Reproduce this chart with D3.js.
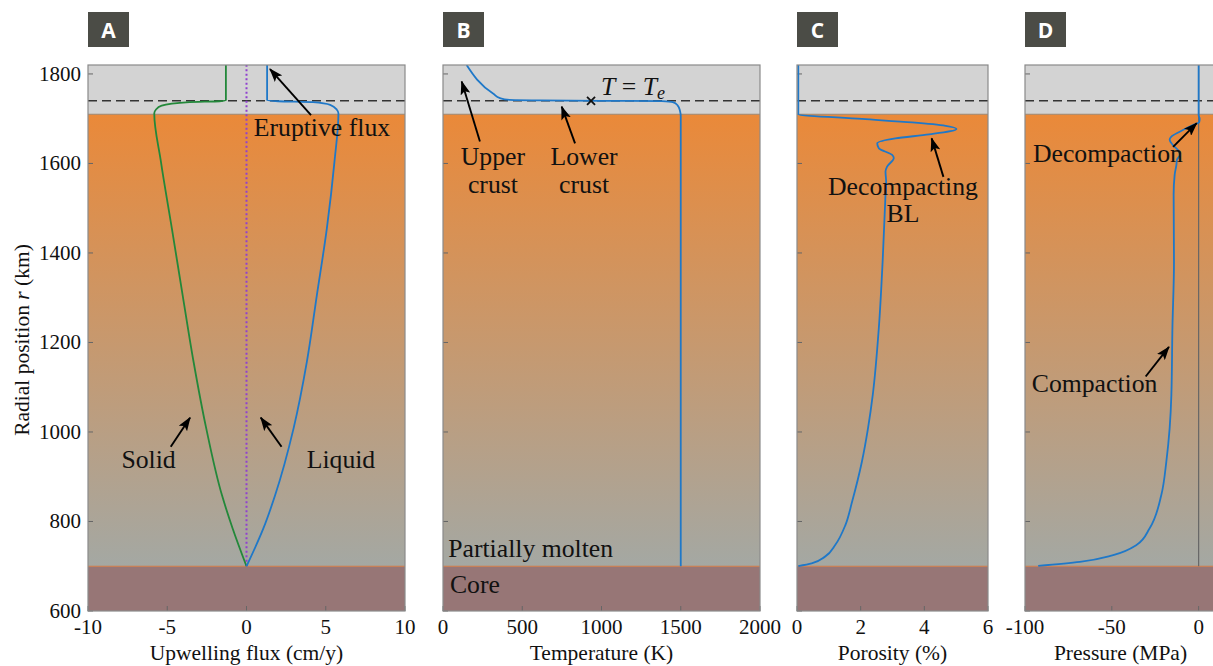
<!DOCTYPE html>
<html><head><meta charset="utf-8">
<script src="https://cdn.jsdelivr.net/npm/d3@7"></script>
<style>
body{margin:0;background:#fff}
svg{display:block}
</style>
</head><body><svg id="chart" width="1213" height="666"></svg>
<script>
// ---------------- data ----------------
const coreTop = 700, crustBase = 1710, rTop = 1820, rBottom = 600;
const elasticLine = 1740;
const rTicks = [600, 800, 1000, 1200, 1400, 1600, 1800];

// Panel A: upwelling flux (cm/y)
const solidR    = [1820, 1741, 1739, 1737, 1729, 1720, 1712, 1604, 1455, 1306, 1157, 1008, 859, 785, 700];
const solidFlux = [-1.3, -1.3, -1.7, -3.6, -5.35, -5.72, -5.82, -5.4, -4.71, -4.03, -3.34, -2.54, -1.55, -0.88, 0];
const liquidR    = [1820, 1741, 1739, 1737, 1731, 1720, 1712, 1604, 1455, 1306, 1157, 1008, 859, 785, 700];
const liquidFlux = [1.3, 1.3, 2.0, 4.2, 5.28, 5.7, 5.8, 5.55, 5.07, 4.44, 3.81, 2.97, 1.81, 1.07, 0];
const fluxTicks = [-10, -5, 0, 5, 10];

// Panel B: temperature (K)
const tempR = [1820, 1755, 1746, 1742, 1741, 1740, 1739.5, 1737, 1730, 1718, 1705, 700];
const tempT = [149, 320, 360, 420, 600, 1000, 1380, 1450, 1480, 1495, 1500, 1500];
const teMarkerT = 934, teMarkerR = 1740;
const tempTicks = [0, 500, 1000, 1500, 2000];

// Panel C: porosity (%)
const porR = [1820, 1710, 1699.4, 1691.6, 1684.1, 1677.1, 1665, 1656, 1645, 1634, 1619, 1612, 1593, 1582, 1559, 1530, 1381, 1232, 1083, 1008, 934, 844, 792, 747.5, 721.5, 706.6, 700.5];
const porVal = [0.04, 0.04, 2.04, 3.62, 4.67, 5.01, 4.15, 3.09, 2.52, 2.57, 2.99, 3.04, 2.83, 2.78, 2.80, 2.78, 2.69, 2.57, 2.38, 2.23, 2.04, 1.73, 1.52, 1.2, 0.88, 0.46, 0.04];
const porTicks = [0, 2, 4, 6];

// Panel D: pressure (MPa)
const presR = [1820, 1708, 1700, 1692, 1686, 1671, 1660, 1653, 1641, 1630, 1619, 1608, 1597, 1575, 1530, 1380, 1232, 1083, 1008, 934, 859, 785, 747.5, 725, 710, 701];
const presVal = [0, 0, 0.6, 0.3, -3.3, -10.9, -15.7, -16.7, -14.8, -11.9, -10.9, -12.5, -12.8, -13.8, -14.4, -14.2, -15.1, -15.7, -16.7, -18.6, -21.5, -28.2, -35.8, -49.2, -68.4, -92.4];
const presTicks = [-100, -50, 0];

// ---------------- font selection ----------------
const ctx = document.createElement("canvas").getContext("2d");
function widthIn(font, txt, size) { ctx.font = `${size}px ${font}`; return ctx.measureText(txt).width; }
function fontExists(name) {
  const s = "Partially molten Wgi 1800";
  return ["monospace", "sans-serif"].some(fb => widthIn(`"${name}", ${fb}`, s, 72) !== widthIn(fb, s, 72));
}
const serifCandidates = ["Liberation Serif", "Tinos", "Times New Roman", "Nimbus Roman", "Noto Serif", "DejaVu Serif", "FreeSerif", "serif"];
const serifName = serifCandidates.find(n => n === "serif" || fontExists(n));
const serif = serifName === "serif" ? "serif" : `"${serifName}", serif`;
const annSize   = 100 * 165 / widthIn(serif, "Partially molten", 100);
const tickSize  = Math.min(21, 100 * 42 / widthIn(serif, "1800", 100));
const titleSize = Math.min(21.5, 100 * 206 / widthIn(serif, "Upwelling flux (cm/y)", 100));

// ---------------- layout ----------------
const svg = d3.select("#chart");
const y = d3.scaleLinear().domain([rBottom, rTop]).range([611, 65]);

const panels = [
  {id: "A", x0: 88,   x1: 405,  domain: [-10, 10],  ticks: fluxTicks, title: "Upwelling flux (cm/y)"},
  {id: "B", x0: 443,  x1: 760,  domain: [0, 2000],  ticks: tempTicks, title: "Temperature (K)"},
  {id: "C", x0: 797,  x1: 988,  domain: [0, 6],     ticks: porTicks,  title: "Porosity (%)"},
  {id: "D", x0: 1025, x1: 1216, domain: [-100, 10], ticks: presTicks, title: "Pressure (MPa)"}
];
panels.forEach(p => p.x = d3.scaleLinear().domain(p.domain).range([p.x0, p.x1]));

const defs = svg.append("defs");
const grad = defs.append("linearGradient").attr("id", "molten")
  .attr("gradientUnits", "userSpaceOnUse")
  .attr("x1", 0).attr("x2", 0).attr("y1", y(crustBase)).attr("y2", y(coreTop));
grad.append("stop").attr("offset", 0).attr("stop-color", "rgb(234,137,57)");
grad.append("stop").attr("offset", 1).attr("stop-color", "rgb(164,168,163)");

defs.append("marker").attr("id", "arrow")
  .attr("viewBox", "0 0 14 10").attr("refX", 13).attr("refY", 5)
  .attr("markerWidth", 14).attr("markerHeight", 10)
  .attr("markerUnits", "userSpaceOnUse").attr("orient", "auto")
  .append("path").attr("d", "M0,0 L14,5 L0,10 L3,5 Z").attr("fill", "#000");

const blue = "#1f78c8", green = "#23883a";
const stext = (sel) => sel.append("text").style("font-family", serif).attr("fill", "#111");

panels.forEach(p => {
  const g = svg.append("g");
  const w = p.x1 - p.x0;
  defs.append("clipPath").attr("id", "clip" + p.id)
    .append("rect").attr("x", p.x0).attr("y", y(rTop)).attr("width", w).attr("height", y(rBottom) - y(rTop));
  g.append("rect").attr("x", p.x0).attr("width", w).attr("y", y(rTop)).attr("height", y(crustBase) - y(rTop)).attr("fill", "#d3d3d3");
  g.append("rect").attr("x", p.x0).attr("width", w).attr("y", y(crustBase)).attr("height", y(coreTop) - y(crustBase)).attr("fill", "url(#molten)");
  g.append("rect").attr("x", p.x0).attr("width", w).attr("y", y(coreTop)).attr("height", y(rBottom) - y(coreTop)).attr("fill", "#977676");
  g.append("line").attr("x1", p.x0).attr("x2", p.x1).attr("y1", y(crustBase)).attr("y2", y(crustBase)).attr("stroke", "#9c8670").attr("stroke-width", 1.2);
  g.append("line").attr("x1", p.x0).attr("x2", p.x1).attr("y1", y(coreTop)).attr("y2", y(coreTop)).attr("stroke", "#d07a45").attr("stroke-width", 1.2);
  g.append("line").attr("x1", p.x0).attr("x2", p.x1).attr("y1", y(elasticLine)).attr("y2", y(elasticLine))
    .attr("stroke", "#333").attr("stroke-width", 1.6).attr("stroke-dasharray", "9,5");
  rTicks.forEach(t => g.append("line").attr("x1", p.x0).attr("x2", p.x0 + 5).attr("y1", y(t)).attr("y2", y(t)).attr("stroke", "#666"));
  p.ticks.forEach(t => {
    g.append("line").attr("x1", p.x(t)).attr("x2", p.x(t)).attr("y1", y(rBottom)).attr("y2", y(rBottom) - 5).attr("stroke", "#666");
    stext(g).attr("x", p.x(t)).attr("y", 634).attr("text-anchor", "middle").attr("font-size", tickSize).text(t);
  });
  stext(g).attr("x", (p.x0 + p.x1) / 2).attr("y", 660).attr("text-anchor", "middle").attr("font-size", titleSize).text(p.title);
  p.g = g;
  p.plot = g.append("g").attr("clip-path", "url(#clip" + p.id + ")");
  svg.append("rect").attr("x", p.x0).attr("y", 12).attr("width", 41).attr("height", 35).attr("fill", "#4b4c46");
  svg.append("text").attr("x", p.x0 + 20.5).attr("y", 37.5).attr("text-anchor", "middle")
    .attr("font-family", "'Open Sans', sans-serif").attr("font-weight", 700).attr("font-size", 21)
    .attr("fill", "#fff").text(p.id);
});

rTicks.forEach(t => stext(svg).attr("x", 81).attr("y", y(t) + tickSize * 0.33).attr("text-anchor", "end").attr("font-size", tickSize).text(t));
const yl = stext(svg).attr("transform", "translate(29,340) rotate(-90)").attr("text-anchor", "middle").attr("font-size", titleSize);
yl.append("tspan").text("Radial position ");
yl.append("tspan").attr("font-style", "italic").text("r");
yl.append("tspan").text(" (km)");

const [A, B, C, D] = panels;
function drawLine(p, xs, rs, color, width) {
  p.plot.append("path").datum(d3.zip(xs, rs))
    .attr("d", d3.line().x(d => p.x(d[0])).y(d => y(d[1])).curve(d3.curveMonotoneY))
    .attr("fill", "none").attr("stroke", color).attr("stroke-width", width || 1.8);
}

A.plot.append("line").attr("x1", A.x(0)).attr("x2", A.x(0)).attr("y1", y(coreTop)).attr("y2", y(rTop))
  .attr("stroke", "#9040d0").attr("stroke-width", 2).attr("stroke-dasharray", "2,2.5");
drawLine(A, solidFlux, solidR, green);
drawLine(A, liquidFlux, liquidR, blue);

drawLine(B, tempT, tempR, blue);
const mx = B.x(teMarkerT), my = y(teMarkerR);
B.plot.append("path").attr("d", `M${mx-4},${my-4}L${mx+4},${my+4}M${mx-4},${my+4}L${mx+4},${my-4}`)
  .attr("stroke", "#111").attr("stroke-width", 1.8);

drawLine(C, porVal, porR, blue);

D.plot.append("line").attr("x1", D.x(0)).attr("x2", D.x(0)).attr("y1", y(coreTop)).attr("y2", y(rTop))
  .attr("stroke", "#666").attr("stroke-width", 1.2);
drawLine(D, presVal, presR, blue);

panels.forEach(p => p.g.append("rect").attr("x", p.x0).attr("y", y(rTop)).attr("width", p.x1 - p.x0)
  .attr("height", y(rBottom) - y(rTop)).attr("fill", "none").attr("stroke", "#8a8a8a").attr("stroke-width", 1.2));

function label(p, xv, rv, txt, anchor) {
  return stext(svg).attr("x", p.x(xv)).attr("y", y(rv)).attr("text-anchor", anchor || "middle")
    .attr("font-size", annSize).text(txt);
}
function arrow(p, x1, r1, x2, r2) {
  svg.append("line").attr("x1", p.x(x1)).attr("y1", y(r1)).attr("x2", p.x(x2)).attr("y2", y(r2))
    .attr("stroke", "#000").attr("stroke-width", 1.9).attr("marker-end", "url(#arrow)");
}
label(A, 4.76, 1661, "Eruptive flux"); arrow(A, 4.07, 1708, 1.48, 1811);
label(A, -6.18, 920, "Solid"); arrow(A, -4.78, 967, -3.56, 1032);
label(A, 5.96, 920, "Liquid"); arrow(A, 2.21, 967, 0.90, 1032);

label(B, 315, 1597, "Upper"); label(B, 315, 1534, "crust"); arrow(B, 233, 1649, 118, 1783);
label(B, 890, 1597, "Lower"); label(B, 890, 1534, "crust"); arrow(B, 833, 1645, 749, 1727);
label(B, 33, 721, "Partially molten", "start");
label(B, 44, 641, "Core", "start");
const te = stext(svg).attr("x", B.x(997)).attr("y", y(1753)).attr("font-size", annSize);
te.append("tspan").attr("font-style", "italic").text("T");
te.append("tspan").text(" = ");
te.append("tspan").attr("font-style", "italic").text("T");
te.append("tspan").attr("font-style", "italic").attr("font-size", annSize * 0.7).attr("dy", 4).text("e");

label(C, 3.33, 1530, "Decompacting"); label(C, 3.33, 1470, "BL"); arrow(C, 4.6, 1570, 4.23, 1656);

label(D, -95.4, 1604, "Decompaction", "start"); arrow(D, -14.7, 1637, -1.1, 1690);
label(D, -96.1, 1090, "Compaction", "start"); arrow(D, -30.5, 1124, -17.1, 1190);
</script></body></html>
